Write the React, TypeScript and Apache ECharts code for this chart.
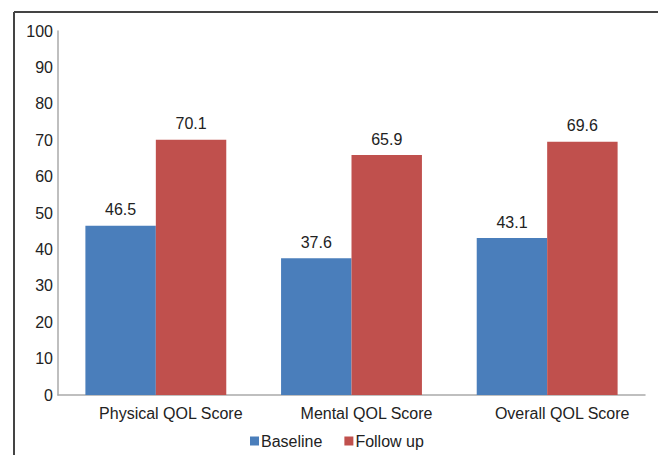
import React, { useEffect, useRef } from "react";
import * as echarts from "echarts";

const categories = ["Physical QOL Score", "Mental QOL Score", "Overall QOL Score"];
const baseline = [46.5, 37.6, 43.1];
const followUp = [70.1, 65.9, 69.6];
const seriesNames = ["Baseline", "Follow up"];

export default function App() {
  const ref = useRef<HTMLDivElement>(null);
  useEffect(() => {
    if (!ref.current) return;
    const chart = echarts.init(ref.current, undefined, { renderer: "svg" });
    const font = "Liberation Sans, Arial, sans-serif";
    chart.setOption({
      animation: false,
      textStyle: { fontFamily: font },
      graphic: [
        { type: "line", shape: { x1: 14, y1: 12, x2: 658, y2: 12 }, style: { stroke: "#444", lineWidth: 2 } },
        { type: "line", shape: { x1: 14, y1: 12, x2: 14, y2: 455 }, style: { stroke: "#444", lineWidth: 2 } },
      ],
      grid: { left: 58, right: 13, top: 31, bottom: 60, containLabel: false },
      legend: {
        data: seriesNames,
        bottom: 1,
        left: 245,
        icon: "rect",
        itemWidth: 9,
        itemHeight: 9,
        itemGap: 22,
        textStyle: { fontSize: 16, color: "#222", fontFamily: font, padding: [0, 0, 0, -3] },
      },
      xAxis: {
        type: "category",
        data: categories,
        axisLine: { lineStyle: { color: "#aaa", width: 1.5 } },
        axisTick: { show: false },
        axisLabel: { fontSize: 16, color: "#222", margin: 10, fontFamily: font, padding: [0, 0, 0, 30] },
      },
      yAxis: {
        type: "value",
        min: 0,
        max: 100,
        interval: 10,
        axisLine: { show: true, lineStyle: { color: "#aaa", width: 1.5 } },
        axisTick: { show: false },
        splitLine: { show: false },
        axisLabel: { fontSize: 16, color: "#222", margin: 5, fontFamily: font },
      },
      series: [
        {
          name: seriesNames[0],
          type: "bar",
          data: baseline,
          barGap: "0%",
          barCategoryGap: "28%",
          itemStyle: { color: "#4a7ebb" },
          label: { show: true, position: "top", distance: 8, fontSize: 16, color: "#222", fontFamily: font },
        },
        {
          name: seriesNames[1],
          type: "bar",
          data: followUp,
          barGap: "0%",
          barCategoryGap: "28%",
          itemStyle: { color: "#c0504d" },
          label: { show: true, position: "top", distance: 8, fontSize: 16, color: "#222", fontFamily: font },
        },
      ],
    });
    return () => chart.dispose();
  }, []);
  return <div ref={ref} style={{ width: 658, height: 455, position: "absolute", left: 0, top: 0 }} />;
}
